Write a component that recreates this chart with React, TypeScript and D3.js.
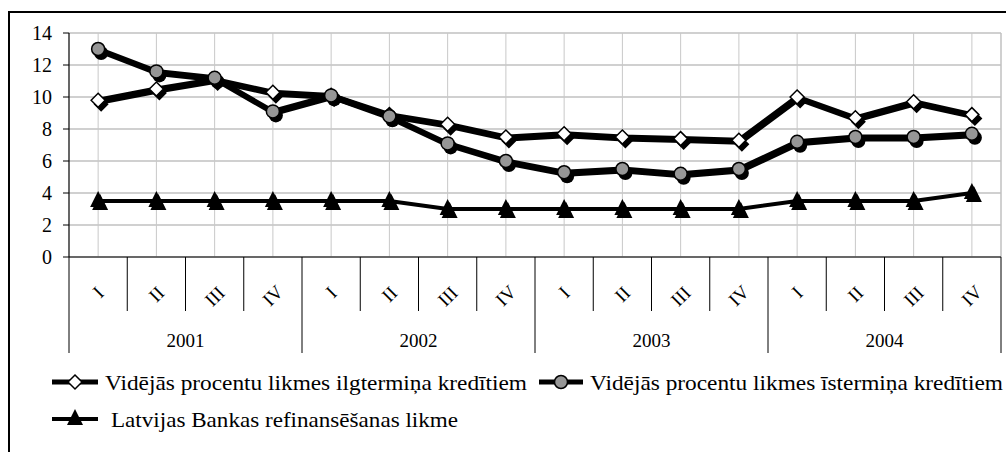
import React from "react";
import * as d3 from "d3";

const years = ["2001", "2002", "2003", "2004"];
const quarters = ["I", "II", "III", "IV"];
const longTerm = [9.8, 10.5, 11.1, 10.3, 10.1, 8.9, 8.3, 7.5, 7.7, 7.5, 7.4, 7.3, 10.0, 8.7, 9.7, 8.9];
const shortTerm = [13.0, 11.6, 11.2, 9.1, 10.1, 8.8, 7.1, 6.0, 5.3, 5.5, 5.2, 5.5, 7.2, 7.5, 7.5, 7.7];
const refiRate = [3.5, 3.5, 3.5, 3.5, 3.5, 3.5, 3.0, 3.0, 3.0, 3.0, 3.0, 3.0, 3.5, 3.5, 3.5, 4.0];
const yTicks = [0, 2, 4, 6, 8, 10, 12, 14];
const legendLabels = [
  "Vidējās procentu likmes ilgtermiņa kredītiem",
  "Vidējās procentu likmes īstermiņa kredītiem",
  "Latvijas Bankas refinansēšanas likme",
];

const W = 1006;
const H = 452;
const FONT = "Liberation Serif, Times New Roman, DejaVu Serif, serif";

export default function App() {
  const cats = years.flatMap((y) => quarters.map((q) => `${y}-${q}`));
  const x0 = 69, x1 = 1001, yTop = 33, yBot = 257;
  const band = d3.scaleBand<string>().domain(cats).range([x0, x1]);
  const cx = (i: number) => (band(cats[i]) as number) + band.bandwidth() / 2;
  const y = d3.scaleLinear().domain([0, 14]).range([yBot, yTop]);
  const line = d3.line<number>().x((_, i) => cx(i)).y((v) => y(v));

  const diamond = (x: number, yy: number, r: number) =>
    `M${x},${yy - r}L${x + r},${yy}L${x},${yy + r}L${x - r},${yy}Z`;
  const tri = (x: number, yy: number, s: number) =>
    `M${x},${yy - s * 0.62}L${x + s / 2},${yy + s * 0.38}L${x - s / 2},${yy + s * 0.38}Z`;

  const sx = 3, sy = 4;
  const bw = band.bandwidth();
  const shadow = "translate(1.5,2)";

  return (
    <svg width={W} height={H} style={{ position: "absolute", left: 0, top: 0 }} fontFamily={FONT}>
      <rect x={0} y={0} width={W} height={H} fill="#fff" />
      <rect x={9} y={12} width={1200} height={600} fill="none" stroke="#000" strokeWidth={2} />
      {yTicks.map((t) => (
        <line key={"g" + t} x1={x0} x2={x1} y1={y(t)} y2={y(t)} stroke="#c0c0c0" strokeWidth={1.5} />
      ))}
      {cats.map((c, i) => (
        <line key={"v" + c} x1={cx(i)} x2={cx(i)} y1={yTop} y2={yBot} stroke="#c8c8c8" strokeWidth={1} />
      ))}
      <line x1={x1} x2={x1} y1={yTop} y2={yBot} stroke="#c0c0c0" strokeWidth={1.5} />
      <line x1={x0} x2={x0} y1={yTop} y2={yBot} stroke="#000" strokeWidth={1.2} />
      <line x1={x0} x2={x1} y1={yBot} y2={yBot} stroke="#000" strokeWidth={1.2} />
      {yTicks.map((t) => (
        <g key={"yt" + t}>
          <line x1={x0 - 6} x2={x0} y1={y(t)} y2={y(t)} stroke="#000" strokeWidth={1} />
          <text x={52} y={y(t) + 7} textAnchor="end" fontSize={20} fontFamily={FONT} fill="#000">{t}</text>
        </g>
      ))}
      {d3.range(cats.length + 1).map((k) => (
        <line key={"s" + k} x1={x0 + k * bw} x2={x0 + k * bw} y1={yBot} y2={k % 4 === 0 ? 353 : 311}
          stroke="#000" strokeWidth={1} />
      ))}
      {cats.map((c, i) => {
        const q = quarters[i % 4];
        const w = q.length * 6 + (q === "IV" ? 4 : 0);
        const cy = 290 + w * 0.35;
        return (
          <text key={"q" + c} x={cx(i)} y={cy} textAnchor="middle" dominantBaseline="central" fontSize={19}
            fontFamily={FONT} transform={`rotate(-45 ${cx(i)} ${cy})`}>{q}</text>
        );
      })}
      {years.map((yr, k) => (
        <text key={yr} x={x0 + (k * 4 + 2) * bw} y={347} textAnchor="middle" fontSize={19} fontFamily={FONT}>{yr}</text>
      ))}
      {/* series 1 */}
      <path d={line(longTerm) || ""} transform={shadow} fill="none" stroke="#000" strokeWidth={5} strokeLinejoin="round" />
      <path d={line(longTerm) || ""} fill="none" stroke="#000" strokeWidth={5} strokeLinejoin="round" />
      {longTerm.map((v, i) => (
        <g key={"d" + i}>
          <path d={diamond(cx(i) + sx, y(v) + sy, 7.5)} fill="#000" />
          <path d={diamond(cx(i), y(v), 7)} fill="#fff" stroke="#000" strokeWidth={1.5} />
        </g>
      ))}
      {/* series 2 */}
      <path d={line(shortTerm) || ""} transform={shadow} fill="none" stroke="#000" strokeWidth={5} strokeLinejoin="round" />
      <path d={line(shortTerm) || ""} fill="none" stroke="#000" strokeWidth={5} strokeLinejoin="round" />
      {shortTerm.map((v, i) => (
        <g key={"c" + i}>
          <circle cx={cx(i) + sx} cy={y(v) + sy} r={7} fill="#000" />
          <circle cx={cx(i)} cy={y(v)} r={6.5} fill="#969696" stroke="#000" strokeWidth={1.5} />
        </g>
      ))}
      {/* series 3 */}
      <path d={line(refiRate) || ""} fill="none" stroke="#000" strokeWidth={4} />
      {refiRate.map((v, i) => (
        <g key={"t" + i}>
          <path d={tri(cx(i) + 2, y(v) + 3, 16)} fill="#000" />
          <path d={tri(cx(i), y(v), 16)} fill="#000" />
        </g>
      ))}
      {/* legend */}
      <g>
        <line x1={52} x2={98} y1={382} y2={382} stroke="#000" strokeWidth={5} />
        <path d={diamond(75, 382, 7)} fill="#fff" stroke="#000" strokeWidth={1.5} />
        <text x={105} y={390} fontSize={21} fontFamily={FONT} textLength={422} lengthAdjust="spacingAndGlyphs">{legendLabels[0]}</text>
        <line x1={539} x2={583} y1={382} y2={382} stroke="#000" strokeWidth={5} />
        <circle cx={561} cy={382} r={6.5} fill="#969696" stroke="#000" strokeWidth={1.5} />
        <text x={590} y={390} fontSize={21} fontFamily={FONT} textLength={413} lengthAdjust="spacingAndGlyphs">{legendLabels[1]}</text>
        <line x1={52} x2={98} y1={419} y2={419} stroke="#000" strokeWidth={4} />
        <path d={tri(75, 419, 16)} fill="#000" />
        <text x={111} y={427} fontSize={21} fontFamily={FONT} textLength={347} lengthAdjust="spacingAndGlyphs">{legendLabels[2]}</text>
      </g>
    </svg>
  );
}
